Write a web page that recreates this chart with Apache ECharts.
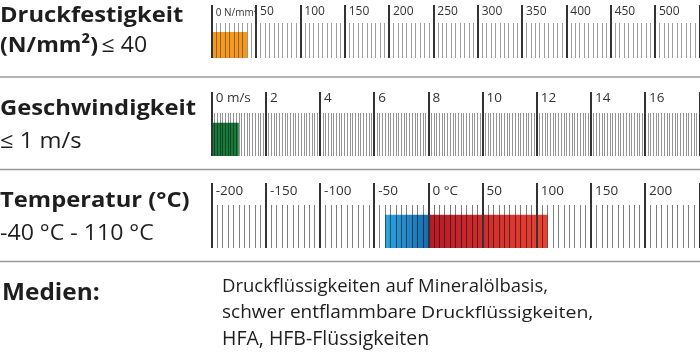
<!DOCTYPE html>
<html><head><meta charset="utf-8">
<script src="https://cdn.jsdelivr.net/npm/echarts@6/dist/echarts.min.js"></script>
<style>html,body{margin:0;padding:0;background:#fff}#c{width:700px;height:354px}</style>
</head><body><div id="c"></div>
<script>
// ---- data ----
const pressureAxis = [0, 550];      // N/mm²
const pressureStep = 50;
const pressureBar = [[0, 40]];
const pressureUnitLabel = '0 N/mm²';

const speedAxis = [0, 18];          // m/s
const speedStep = 2;
const speedBar = [[0, 1]];
const speedUnitLabel = '0 m/s';

const tempAxis = [-200, 250];       // °C
const tempStep = 50;
const tempColdBar = [[-40, 0]];
const tempHotBar = [[0, 110]];
const tempUnitLabel = '0 °C';

const rowTitles = ['Druckfestigkeit', 'Geschwindigkeit', 'Temperatur (°C)'];
const rowSubtitles = ['≤ 40', '≤ 1 m/s', '-40 °C - 110 °C'];
const mediaTitle = 'Medien:';
const mediaLines = ['Druckflüssigkeiten auf Mineralölbasis,', 'schwer entflammbare', 'Druckflüssigkeiten,', 'HFA, HFB-Flüssigkeiten'];

// ---- chart ----
const chart = echarts.init(document.getElementById('c'), null, {renderer: 'canvas'});
const FONT = 'Open Sans';
const INK = '#1e1e1e';

function makeAxis(idx, range, step, minorSplit, majorLen, minorLen, minorColor, margin, fontSize, unitLabel) {
  return {
    gridIndex: idx, type: 'value', min: range[0], max: range[1], interval: step,
    position: 'bottom', z: 10,
    axisLine: {show: false}, splitLine: {show: false},
    axisTick: {show: true, inside: true, length: majorLen, lineStyle: {color: '#333', width: 2}},
    minorTick: {show: true, splitNumber: minorSplit, length: minorLen, lineStyle: {color: minorColor, width: 1}},
    axisLabel: {
      inside: true, margin: margin, align: 'left', verticalAlign: 'bottom',
      padding: [0, 0, 0, 4], fontSize: fontSize, color: '#333', fontFamily: FONT,
      showMinLabel: true, showMaxLabel: true, hideOverlap: false,
      formatter: function (v) {
        if (v === range[0] && unitLabel.indexOf('N/mm') >= 0) return '{u|' + unitLabel + '}';
        if (v === 0) return unitLabel;
        if (v === range[1]) return '';
        return String(v);
      },
      rich: {u: {fontSize: 10, fontFamily: FONT, color: '#333'}}
    }
  };
}
function makeY(idx) {
  return {gridIndex: idx, type: 'value', min: 0, max: 1, show: false};
}
function barSeries(idx, data, frac, fill) {
  return {
    type: 'custom', xAxisIndex: idx, yAxisIndex: idx, z: 2, silent: true,
    data: data,
    renderItem: function (params, api) {
      const a = api.coord([api.value(0), 0]);
      const b = api.coord([api.value(1), frac]);
      return {type: 'rect', shape: {x: a[0], y: b[1], width: b[0] - a[0], height: a[1] - b[1]}, style: {fill: fill}};
    }
  };
}
const LG = echarts.graphic.LinearGradient;

const gridLeft = 211.7, gridRight = 0.7;
const boldF = 'bold 22px "Open Sans"';
const regF = '22px "Open Sans"';
const option = {
  animation: false,
  backgroundColor: '#fff',
  grid: [
    {left: gridLeft, right: gridRight, top: 5, height: 53, containLabel: false, outerBoundsMode: 'none'},
    {left: gridLeft, right: gridRight, top: 92, height: 64, containLabel: false, outerBoundsMode: 'none'},
    {left: gridLeft, right: gridRight, top: 183, height: 65, containLabel: false, outerBoundsMode: 'none'}
  ],
  xAxis: [
    makeAxis(0, pressureAxis, pressureStep, 10, 53, 35, 'rgba(0,0,0,0.38)', 40, 12, pressureUnitLabel),
    makeAxis(1, speedAxis, speedStep, 20, 64, 43, 'rgba(0,0,0,0.42)', 51, 13.5, speedUnitLabel),
    makeAxis(2, tempAxis, tempStep, 10, 65, 43, 'rgba(0,0,0,0.5)', 50, 13.5, tempUnitLabel)
  ],
  yAxis: [makeY(0), makeY(1), makeY(2)],
  series: [
    barSeries(0, pressureBar, 0.49, '#f39a1e'),
    barSeries(1, speedBar, 0.52, '#187a3c'),
    barSeries(2, tempColdBar, 0.51, new LG(0, 0, 1, 0, [{offset: 0, color: '#2ca6e0'}, {offset: 1, color: '#1c6cae'}])),
    barSeries(2, tempHotBar, 0.51, new LG(0, 0, 1, 0, [{offset: 0, color: '#b51b29'}, {offset: 1, color: '#ea4333'}]))
  ],
  graphic: [
    {type: 'line', shape: {x1: 0, y1: 77, x2: 700, y2: 77}, style: {stroke: '#999', lineWidth: 1.5}},
    {type: 'line', shape: {x1: 0, y1: 169.5, x2: 700, y2: 169.5}, style: {stroke: '#999', lineWidth: 1.5}},
    {type: 'line', shape: {x1: 0, y1: 261.5, x2: 700, y2: 261.5}, style: {stroke: '#999', lineWidth: 1.5}},
    {type: 'text', x: 0, y: 15.5, scaleX: 1.08, style: {text: rowTitles[0], font: boldF, fill: INK, verticalAlign: 'middle'}},
    {type: 'text', x: 0, y: 46, scaleX: 1.05, style: {text: '{b|(N/mm²)} {r|' + rowSubtitles[0] + '}', verticalAlign: 'middle', rich: {b: {font: boldF, fill: INK}, r: {font: regF, fill: INK}}}},
    {type: 'text', x: 0, y: 109, scaleX: 1.08, style: {text: rowTitles[1], font: boldF, fill: INK, verticalAlign: 'middle'}},
    {type: 'text', x: 0, y: 141.5, scaleX: 1.08, style: {text: rowSubtitles[1], font: regF, fill: INK, verticalAlign: 'middle'}},
    {type: 'text', x: 0, y: 201, scaleX: 1.08, style: {text: rowTitles[2], font: boldF, fill: INK, verticalAlign: 'middle'}},
    {type: 'text', x: 0, y: 234, scaleX: 1.05, style: {text: rowSubtitles[2], font: regF, fill: INK, verticalAlign: 'middle'}},
    {type: 'text', x: 2, y: 293, scaleX: 1.06, style: {text: mediaTitle, font: 'bold 23px "Open Sans"', fill: INK, verticalAlign: 'middle'}},
    {type: 'text', x: 222, y: 287, style: {text: mediaLines[0], font: '18.5px "Open Sans"', fill: INK, verticalAlign: 'middle'}},
    {type: 'text', x: 222, y: 313, style: {text: mediaLines[1], font: '19px "Open Sans"', fill: INK, verticalAlign: 'middle'}},
    {type: 'text', x: 421, y: 313.5, scaleX: 1.22, style: {text: mediaLines[2], font: '16px "Open Sans"', fill: INK, verticalAlign: 'middle'}},
    {type: 'text', x: 222, y: 339, style: {text: mediaLines[3], font: '19.5px "Open Sans"', fill: INK, verticalAlign: 'middle'}}
  ]
};
chart.setOption(option);
</script></body></html>
